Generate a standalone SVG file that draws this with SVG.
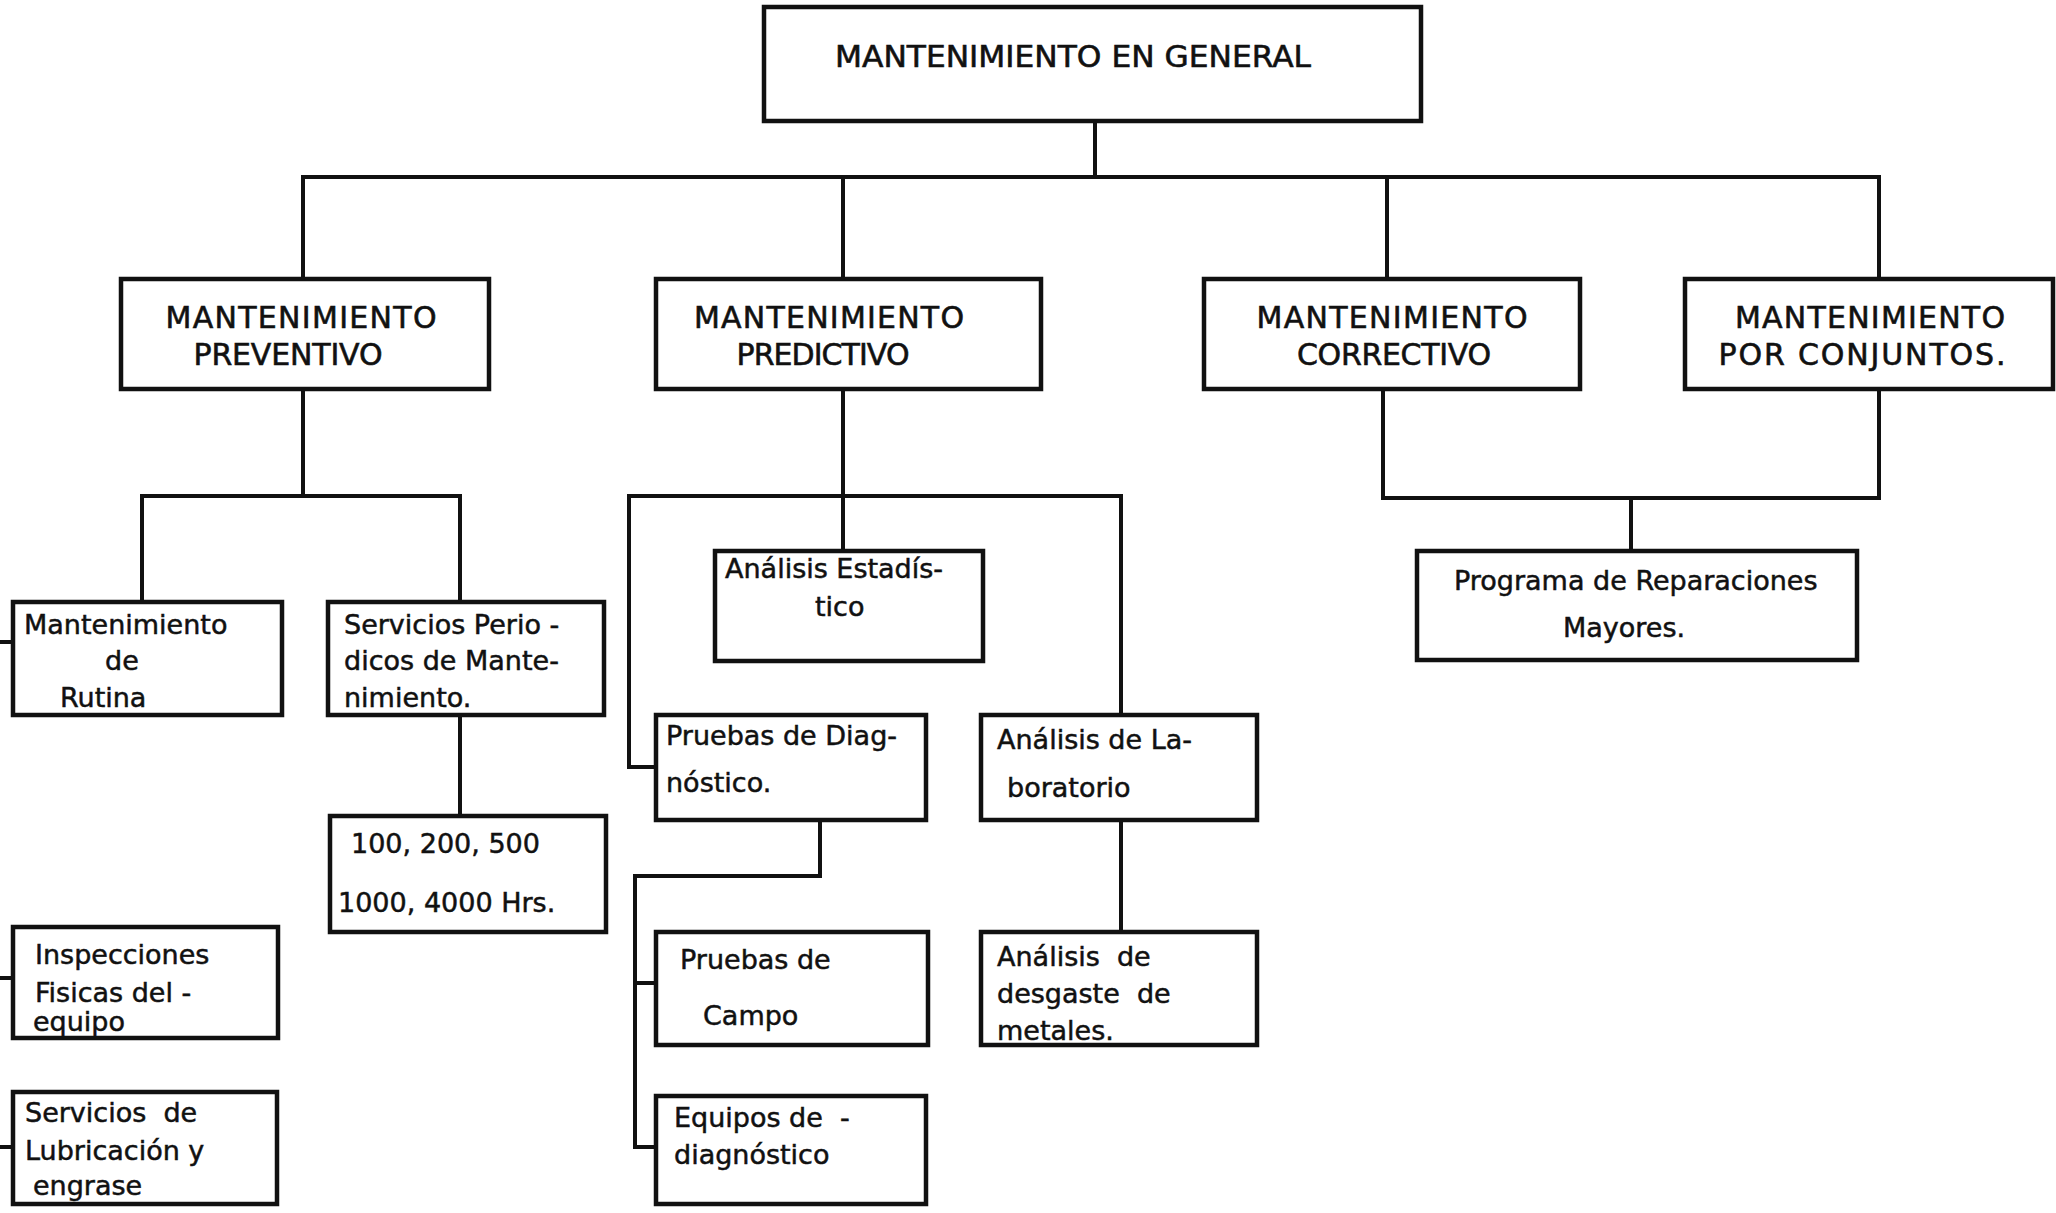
<svg xmlns="http://www.w3.org/2000/svg" width="2056" height="1213" viewBox="0 0 2056 1213">
<style>
.box{fill:#fff;stroke:#111;stroke-width:4.5}
.ln{fill:none;stroke:#111;stroke-width:4;stroke-linecap:square}
.cap{font-family:"DejaVu Sans",sans-serif;font-size:30px;fill:#111;stroke:#111;stroke-width:0.6;text-anchor:middle}
.t{font-family:"DejaVu Sans",sans-serif;font-size:27px;fill:#111;stroke:#111;stroke-width:0.5;white-space:pre}
</style>
<rect width="2056" height="1213" fill="#fff"/>
<g id="connectors">
<path class="ln" d="M1095 121V177M303 177H1879M303 177V279M843 177V279M1387 177V279M1879 177V279"/>
<path class="ln" d="M303 389V496M142 496H460M142 496V602M460 496V602M460 715V816"/>
<path class="ln" d="M0 642H13M0 978H13M0 1147H13"/>
<path class="ln" d="M843 389V551M629 496H1121M629 496V767H656M1121 496V715"/>
<path class="ln" d="M820 820V876H635V1147H656M635 983H656M1121 820V932"/>
<path class="ln" d="M1383 389V498H1879V389M1631 498V551"/>
</g>
<g id="n-general"><rect class="box" x="764" y="7" width="657" height="114"/><text class="cap" x="1073" y="67" textLength="476" lengthAdjust="spacingAndGlyphs">MANTENIMIENTO EN GENERAL</text></g>
<g id="n-preventivo"><rect class="box" x="121" y="279" width="368" height="110"/><text class="cap" x="301" y="328" textLength="271">MANTENIMIENTO</text><text class="cap" x="288" y="365" textLength="189">PREVENTIVO</text></g>
<g id="n-predictivo"><rect class="box" x="656" y="279" width="385" height="110"/><text class="cap" x="829" y="328" textLength="270">MANTENIMIENTO</text><text class="cap" x="823" y="365" textLength="173">PREDICTIVO</text></g>
<g id="n-correctivo"><rect class="box" x="1204" y="279" width="376" height="110"/><text class="cap" x="1392" y="328" textLength="271">MANTENIMIENTO</text><text class="cap" x="1394" y="365" textLength="194">CORRECTIVO</text></g>
<g id="n-conjuntos"><rect class="box" x="1685" y="279" width="368" height="110"/><text class="cap" x="1870" y="328" textLength="270">MANTENIMIENTO</text><text class="cap" x="1862" y="365" textLength="287">POR CONJUNTOS.</text></g>
<g id="n-rutina"><rect class="box" x="13" y="602" width="269" height="113"/><text class="t" x="24" y="634">Mantenimiento</text><text class="t" x="105" y="670">de</text><text class="t" x="60" y="707">Rutina</text></g>
<g id="n-servicios-periodicos"><rect class="box" x="328" y="602" width="276" height="113"/><text class="t" x="344" y="634">Servicios Perio -</text><text class="t" x="344" y="670">dicos de Mante-</text><text class="t" x="344" y="707">nimiento.</text></g>
<g id="n-horas"><rect class="box" x="330" y="816" width="276" height="116"/><text class="t" x="351" y="853">100, 200, 500</text><text class="t" x="338" y="912">1000, 4000 Hrs.</text></g>
<g id="n-inspecciones"><rect class="box" x="13" y="927" width="265" height="111"/><text class="t" x="35" y="964">Inspecciones</text><text class="t" x="35" y="1002">Fisicas del -</text><text class="t" x="33" y="1031">equipo</text></g>
<g id="n-lubricacion"><rect class="box" x="13" y="1092" width="264" height="112"/><text class="t" x="25" y="1122">Servicios  de</text><text class="t" x="25" y="1160">Lubricación y</text><text class="t" x="33" y="1195">engrase</text></g>
<g id="n-estadistico"><rect class="box" x="715" y="551" width="268" height="110"/><text class="t" x="725" y="578">Análisis Estadís-</text><text class="t" x="815" y="616">tico</text></g>
<g id="n-diagnostico"><rect class="box" x="656" y="715" width="270" height="105"/><text class="t" x="666" y="745">Pruebas de Diag-</text><text class="t" x="666" y="792">nóstico.</text></g>
<g id="n-laboratorio"><rect class="box" x="981" y="715" width="276" height="105"/><text class="t" x="997" y="749">Análisis de La-</text><text class="t" x="1007" y="797">boratorio</text></g>
<g id="n-campo"><rect class="box" x="656" y="932" width="272" height="113"/><text class="t" x="680" y="969">Pruebas de</text><text class="t" x="703" y="1025">Campo</text></g>
<g id="n-equipos"><rect class="box" x="656" y="1096" width="270" height="108"/><text class="t" x="674" y="1127">Equipos de  -</text><text class="t" x="674" y="1164">diagnóstico</text></g>
<g id="n-metales"><rect class="box" x="981" y="932" width="276" height="113"/><text class="t" x="997" y="966">Análisis  de</text><text class="t" x="997" y="1003">desgaste  de</text><text class="t" x="997" y="1040">metales.</text></g>
<g id="n-reparaciones"><rect class="box" x="1417" y="551" width="440" height="109"/><text class="t" x="1454" y="590">Programa de Reparaciones</text><text class="t" x="1563" y="637">Mayores.</text></g>
</svg>
